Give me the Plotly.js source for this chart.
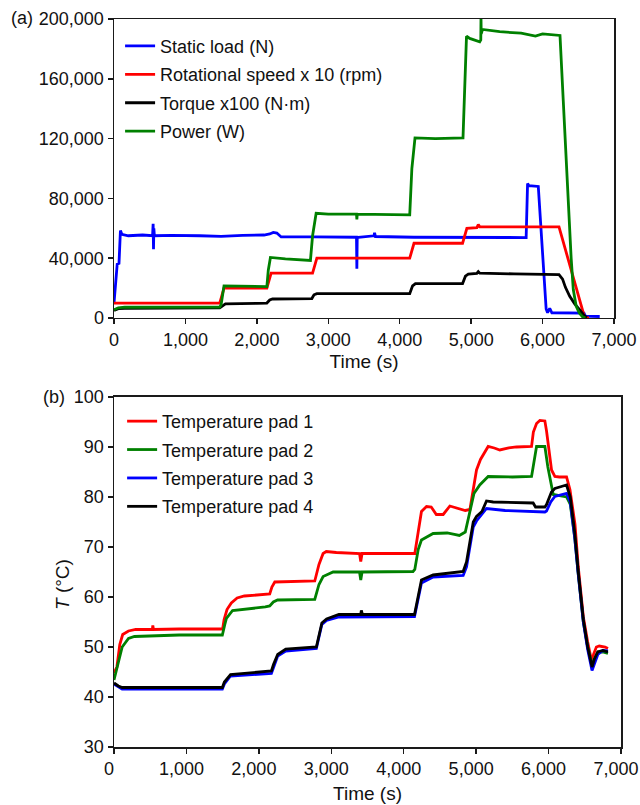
<!DOCTYPE html>
<html>
<head>
<meta charset="utf-8">
<script src="https://cdn.plot.ly/plotly-3.0.1.min.js"></script>
<style>
  html, body { margin: 0; padding: 0; background: #fff; }
  #chart { width: 640px; height: 805px; }
</style>
</head>
<body>
<div id="chart"></div>
<script>
// ---- (a) test rig operating parameters ----
const loadTime = [0, 25, 45, 70, 90, 110, 200, 400, 540, 548, 553, 558, 565, 800, 1200, 1500, 1800, 2100, 2180, 2230, 2280, 2340, 2800, 3200, 3395, 3400, 3405, 3420, 3640, 3648, 3660, 4200, 4700, 5200, 5770, 5790, 5810, 5940, 5970, 6010, 6050, 6070, 6100, 6130, 6350, 6580, 6600, 6800];
const staticLoad = [10000, 22000, 36000, 36500, 58500, 56000, 55000, 55500, 55000, 63000, 46000, 60000, 55000, 55200, 55000, 54600, 55300, 55500, 56200, 57200, 56800, 54200, 54300, 54000, 54000, 33000, 53800, 54000, 55000, 57000, 54500, 54000, 54000, 54000, 53800, 90000, 88500, 88000, 65000, 30000, 6000, 3500, 6500, 3500, 3300, 3200, 1200, 1000];

const speedTime = [0, 1480, 1540, 2140, 2200, 2780, 2840, 4140, 4200, 4880, 4940, 5080, 5100, 5120, 6230, 6590, 6650];
const speedX10 = [10000, 10000, 20000, 20000, 30000, 30000, 40000, 40000, 50000, 50000, 60000, 60500, 62500, 61000, 61000, 0, 0];

const torqueTime = [0, 60, 150, 800, 1480, 1500, 1560, 2000, 2140, 2180, 2220, 2770, 2800, 2840, 3500, 4140, 4180, 4220, 4880, 4920, 4960, 5080, 5100, 5120, 5600, 6230, 6280, 6320, 6380, 6450, 6520, 6580, 6620];
const torqueX100 = [5000, 6200, 6500, 6800, 6800, 7500, 9500, 9800, 10000, 12000, 12700, 13000, 15500, 16300, 16500, 16300, 21500, 23000, 23000, 28000, 29300, 29800, 31000, 30000, 29500, 29000, 26000, 20500, 14500, 9500, 5500, 1800, 300];

const powerTime = [0, 60, 150, 1480, 1500, 1540, 2140, 2160, 2190, 2400, 2750, 2780, 2830, 3000, 3395, 3400, 3405, 4140, 4170, 4214, 4500, 4886, 4910, 4935, 4980, 5050, 5120, 5135, 5138, 5141, 5160, 5400, 5700, 5900, 6000, 6244, 6290, 6343, 6360, 6400, 6430, 6470, 6514, 6560, 6600];
const power = [5500, 6800, 7200, 7300, 9000, 21500, 21000, 32000, 40500, 39500, 38500, 55000, 70000, 69500, 69500, 66000, 69500, 69000, 100000, 120500, 120000, 120500, 160000, 188500, 187000, 186000, 184800, 186000, 201000, 190000, 193000, 191500, 190500, 188600, 190000, 189000, 145000, 92000, 78000, 40000, 19000, 8000, 3300, 800, 0];

// ---- (b) pad temperatures ----
const pad1Time = [0, 40, 80, 120, 200, 300, 530, 536, 545, 900, 1500, 1520, 1560, 1620, 1700, 1800, 2150, 2180, 2220, 2500, 2772, 2830, 2887, 2931, 3069, 3390, 3407, 3425, 4153, 4200, 4245, 4315, 4380, 4450, 4545, 4637, 4750, 4850, 4914, 4960, 5005, 5060, 5120, 5166, 5250, 5327, 5450, 5557, 5765, 5790, 5834, 5880, 5949, 5972, 6041, 6087, 6150, 6248, 6295, 6365, 6410, 6480, 6540, 6590, 6620, 6660, 6700, 6780, 6820];
const pad1 = [44.8, 46, 50.5, 52.5, 53.2, 53.5, 53.5, 54.3, 53.5, 53.6, 53.6, 55.5, 57.5, 58.8, 59.8, 60.2, 60.6, 62, 63, 63.1, 63.2, 66.5, 68.7, 69.1, 68.9, 68.7, 67.1, 68.7, 68.7, 73, 77.1, 78.1, 78, 76.5, 76.5, 78.2, 77.8, 77.3, 77.5, 82, 85.4, 87.5, 89.1, 90.1, 89.8, 89.4, 89.8, 90, 90.1, 93, 94.7, 95.3, 95.2, 93.2, 85.4, 84.1, 84, 84, 81.5, 74.5, 66, 56, 51, 47.5, 48.5, 50, 50.2, 50, 49.7];

const pad2Time = [0, 60, 113, 200, 282, 900, 1496, 1530, 1552, 1637, 1800, 2089, 2150, 2200, 2258, 2772, 2830, 2887, 3025, 3390, 3407, 3425, 4128, 4153, 4200, 4245, 4406, 4600, 4700, 4768, 4850, 4900, 4970, 5050, 5166, 5500, 5765, 5787, 5834, 5949, 5990, 6064, 6248, 6300, 6360, 6410, 6480, 6540, 6600, 6630, 6680, 6750, 6820];
const pad2 = [43.4, 47, 50, 51.7, 52.1, 52.4, 52.4, 54.5, 55.7, 57.3, 57.5, 58, 58.2, 59, 59.4, 59.5, 62.5, 64.1, 65, 65, 63.4, 65, 65.1, 65.5, 69.5, 71.4, 72.7, 72.8, 72.5, 72.3, 73, 76, 80.7, 82.4, 84.1, 84, 84.1, 86, 90.1, 90.1, 86, 80.5, 80, 78.5, 72, 64.5, 55, 50, 46.5, 47.5, 49, 49, 48.7];

const pad3Time = [0, 60, 113, 900, 1496, 1524, 1609, 2173, 2202, 2260, 2371, 2794, 2830, 2870, 2935, 3105, 4149, 4177, 4245, 4406, 4821, 4867, 4914, 4960, 5005, 5080, 5143, 5400, 5787, 5949, 5972, 6030, 6087, 6248, 6300, 6360, 6410, 6480, 6540, 6600, 6630, 6680, 6750, 6820];
const pad3 = [42.6, 42, 41.6, 41.6, 41.6, 42.6, 44.2, 44.7, 46, 48.2, 49.2, 49.7, 52, 54.5, 55.3, 56, 56.1, 58, 62.8, 64, 64.3, 66, 70, 74, 75.2, 76.5, 77.7, 77.3, 77.1, 77, 77.2, 79, 80.1, 80.7, 79, 72, 64.5, 55, 49.5, 45.3, 46.5, 48.5, 49.3, 49.2];

const pad4Time = [0, 60, 113, 900, 1496, 1524, 1609, 2173, 2202, 2260, 2371, 2794, 2830, 2870, 2935, 3105, 3407, 3415, 3430, 4149, 4177, 4245, 4406, 4821, 4867, 4914, 4960, 5005, 5080, 5143, 5235, 5787, 5820, 5949, 5972, 6040, 6087, 6200, 6248, 6300, 6360, 6410, 6480, 6540, 6600, 6630, 6680, 6750, 6820];
const pad4 = [42.8, 42.2, 41.9, 41.9, 41.9, 43, 44.5, 45.2, 46.5, 48.5, 49.6, 50, 52.4, 54.8, 55.6, 56.5, 56.5, 57.3, 56.5, 56.5, 58.5, 63.4, 64.4, 65.1, 67, 71.5, 75, 76.1, 77.1, 79.2, 79, 78.8, 78, 78, 78.5, 81, 81.7, 82.2, 82.4, 80, 73, 65, 55.5, 50, 46, 47.5, 49, 49.3, 49];

const FONT = 'Liberation Sans, Arial, sans-serif';
const LW = 2.8;

function line(x, y, name, color, xa, ya, legend) {
  // each trace in its own legend group so tracegroupgap spaces the entries
  return { x, y, name, type: 'scatter', mode: 'lines', xaxis: xa, yaxis: ya, legend,
           legendgroup: name, line: { color, width: LW }, hoverinfo: 'x+y' };
}

const traces = [
  line(loadTime, staticLoad, 'Static load (N)', '#0000ff', 'x', 'y', 'legend'),
  line(speedTime, speedX10, 'Rotational speed x 10 (rpm)', '#ff0000', 'x', 'y', 'legend'),
  line(torqueTime, torqueX100, 'Torque x100 (N·m)', '#000000', 'x', 'y', 'legend'),
  line(powerTime, power, 'Power (W)', '#008000', 'x', 'y', 'legend'),
  line(pad1Time, pad1, 'Temperature pad 1', '#ff0000', 'x2', 'y2', 'legend2'),
  line(pad2Time, pad2, 'Temperature pad 2', '#008000', 'x2', 'y2', 'legend2'),
  line(pad3Time, pad3, 'Temperature pad 3', '#0000ff', 'x2', 'y2', 'legend2'),
  line(pad4Time, pad4, 'Temperature pad 4', '#000000', 'x2', 'y2', 'legend2')
];

const axisCommon = {
  showline: true, mirror: true, linecolor: '#1a1a1a', linewidth: 1.5,
  ticks: 'outside', ticklen: 5, tickwidth: 1.5, tickcolor: '#1a1a1a',
  showgrid: false, zeroline: false,
  tickfont: { family: FONT, size: 18, color: '#111' }
};

const legendCommon = {
  xanchor: 'left', yanchor: 'top',
  bgcolor: 'rgba(0,0,0,0)', borderwidth: 0,
  font: { family: FONT, size: 18, color: '#111' }, tracegroupgap: 2
};

const layout = {
  width: 640, height: 805,
  margin: { l: 114, r: 19, t: 19, b: 58 },
  paper_bgcolor: '#fff', plot_bgcolor: '#fff',
  font: { family: FONT, size: 18, color: '#111' },
  xaxis: Object.assign({}, axisCommon, {
    domain: [0, 0.9862], anchor: 'y', range: [0, 7000], dtick: 1000, tickformat: ',',
    title: { text: 'Time (s)', font: { family: FONT, size: 19 }, standoff: 5 }
  }),
  yaxis: Object.assign({}, axisCommon, {
    domain: [0.5893, 1], anchor: 'x', range: [0, 200000], dtick: 40000, tickformat: ','
  }),
  xaxis2: Object.assign({}, axisCommon, {
    domain: [0, 1], anchor: 'y2', range: [0, 7000], dtick: 1000, tickformat: ',',
    ticklabelshift: -5, ticklabeloverflow: 'allow',
    title: { text: 'Time (s)', font: { family: FONT, size: 19 }, standoff: 8 }
  }),
  yaxis2: Object.assign({}, axisCommon, {
    domain: [0, 0.4808], anchor: 'x2', range: [30, 100], dtick: 10
  }),
  legend: Object.assign({}, legendCommon, { x: 0.012, y: 0.988 }),
  legend2: Object.assign({}, legendCommon, { x: 0.016, y: 0.4726 }),
  annotations: [
    { text: '(a)', xref: 'paper', yref: 'paper', x: -0.1815, y: 1.0014, showarrow: false,
      xanchor: 'center', yanchor: 'middle', font: { family: FONT, size: 18, color: '#111' } },
    { text: '(b)', xref: 'paper', yref: 'paper', x: -0.1193, y: 0.4808, showarrow: false,
      xanchor: 'center', yanchor: 'middle', font: { family: FONT, size: 18, color: '#111' } },
    { text: '<i>T</i> (°C)', xref: 'paper', yref: 'paper', x: -0.1026, y: 0.2239, showarrow: false,
      textangle: -90, xanchor: 'center', yanchor: 'middle',
      font: { family: FONT, size: 19, color: '#111' } }
  ],
  showlegend: true
};

Plotly.newPlot('chart', traces, layout, { displayModeBar: false, staticPlot: true });
</script>
</body>
</html>
